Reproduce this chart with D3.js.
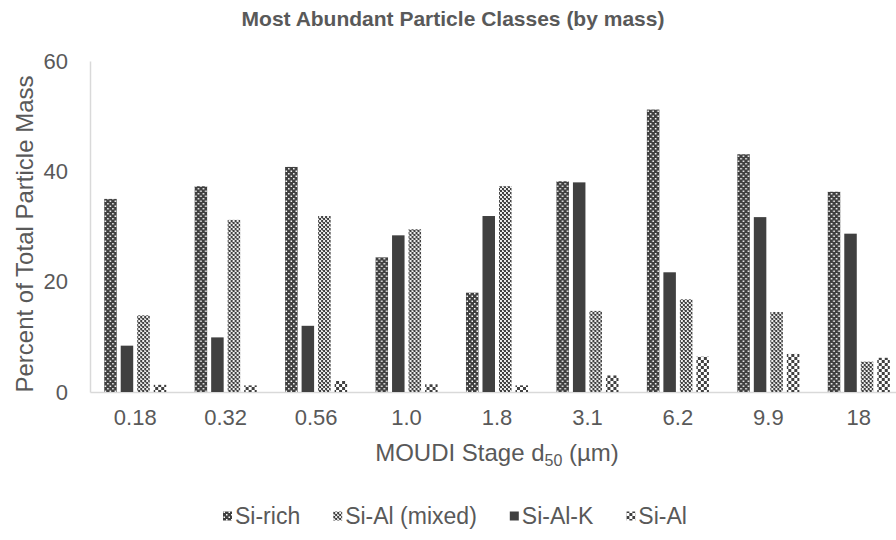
<!DOCTYPE html>
<html>
<head>
<meta charset="utf-8">
<script src="https://cdn.jsdelivr.net/npm/d3@7"></script>
<style>
  html, body { margin: 0; padding: 0; background: #fff; }
  svg { display: block; font-family: "Liberation Sans", Arial, sans-serif; }
</style>
</head>
<body>
<svg id="chart" width="896" height="540"></svg>
<script>
// MOUDI stage cut sizes (µm)
const stages = ["0.18", "0.32", "0.56", "1.0", "1.8", "3.1", "6.2", "9.9", "18"];

// Percent of total particle mass per class
const siRich    = [35.0, 37.3, 40.8, 24.4, 18.0, 38.2, 51.2, 43.1, 36.3];
const siAlK     = [8.4, 9.9, 12.0, 28.4, 31.9, 38.0, 21.7, 31.7, 28.7];
const siAlMixed = [13.9, 31.2, 31.9, 29.5, 37.3, 14.7, 16.8, 14.5, 5.5];
const siAl      = [1.3, 1.2, 2.0, 1.4, 1.2, 3.0, 6.4, 6.9, 6.2];

const yTicks = [0, 20, 40, 60];

// bar order inside each stage group
const barOrder = ["Si-rich", "Si-Al-K", "Si-Al (mixed)", "Si-Al"];
// legend order
const legendOrder = ["Si-rich", "Si-Al (mixed)", "Si-Al-K", "Si-Al"];

const seriesValues = {
  "Si-rich": siRich,
  "Si-Al (mixed)": siAlMixed,
  "Si-Al-K": siAlK,
  "Si-Al": siAl
};
const seriesFill = {
  "Si-rich": "url(#pat-rich)",
  "Si-Al (mixed)": "url(#pat-mixed)",
  "Si-Al-K": "#404040",
  "Si-Al": "url(#pat-sial)"
};

const svg = d3.select("#chart");
const textColor = "#595959";
const axisColor = "#d9d9d9";
const dark = "#404040";

// fill patterns
const defs = svg.append("defs");
const pRich = defs.append("pattern").attr("id", "pat-rich")
  .attr("patternUnits", "userSpaceOnUse").attr("width", 5).attr("height", 5);
pRich.append("rect").attr("width", 5).attr("height", 5).attr("fill", dark);
pRich.append("rect").attr("x", 0.5).attr("y", 0.5).attr("width", 1.5).attr("height", 1.5).attr("fill", "#fff");
pRich.append("rect").attr("x", 3).attr("y", 3).attr("width", 1.5).attr("height", 1.5).attr("fill", "#fff");

const pMixed = defs.append("pattern").attr("id", "pat-mixed")
  .attr("patternUnits", "userSpaceOnUse").attr("width", 4).attr("height", 4);
pMixed.append("rect").attr("width", 4).attr("height", 4).attr("fill", "#eeeeee");
pMixed.append("rect").attr("x", 0).attr("y", 0).attr("width", 2).attr("height", 2).attr("fill", dark);
pMixed.append("rect").attr("x", 2).attr("y", 2).attr("width", 2).attr("height", 2).attr("fill", dark);
pMixed.append("rect").attr("x", 1).attr("y", 2).attr("width", 1).attr("height", 1).attr("fill", "#888");

const pSiAl = defs.append("pattern").attr("id", "pat-sial")
  .attr("patternUnits", "userSpaceOnUse").attr("width", 6).attr("height", 6);
pSiAl.append("rect").attr("width", 6).attr("height", 6).attr("fill", "#fff");
pSiAl.append("rect").attr("x", 0).attr("y", 0).attr("width", 3).attr("height", 3).attr("fill", dark);
pSiAl.append("rect").attr("x", 3).attr("y", 3).attr("width", 3).attr("height", 3).attr("fill", dark);

// plot area
const plotLeft = 90, plotRight = 904, plotTop = 61, plotBottom = 392;

const x0 = d3.scaleBand().domain(stages).range([plotLeft, plotRight])
  .paddingInner(0.314).paddingOuter(0.157);
const x1 = d3.scaleBand().domain(barOrder).range([0, x0.bandwidth()])
  .paddingInner(0.243).paddingOuter(0);
const y = d3.scaleLinear().domain([0, 60]).range([plotBottom, plotTop]);

// title
svg.append("text")
  .attr("x", 453).attr("y", 25.5)
  .attr("text-anchor", "middle")
  .attr("font-size", 21).attr("font-weight", "bold")
  .attr("fill", textColor)
  .text("Most Abundant Particle Classes (by mass)");

// y axis
const yAxis = d3.axisLeft(y).tickValues(yTicks).tickSize(0).tickPadding(22);
const gy = svg.append("g").attr("transform", `translate(${plotLeft},0)`).call(yAxis);
gy.select(".domain").attr("stroke", axisColor).attr("stroke-width", 1.5);
gy.selectAll("text").attr("font-size", 22).attr("fill", textColor)
  .attr("font-family", "Liberation Sans, Arial, sans-serif");

// x axis
const xAxis = d3.axisBottom(x0).tickSize(0).tickPadding(17);
const gx = svg.append("g").attr("transform", `translate(0,${plotBottom})`).call(xAxis);
gx.select(".domain").attr("stroke", axisColor).attr("stroke-width", 1.5);
gx.selectAll("text").attr("font-size", 22).attr("fill", textColor)
  .attr("font-family", "Liberation Sans, Arial, sans-serif");

// bars
const groups = svg.append("g").selectAll("g")
  .data(stages).join("g")
  .attr("transform", d => `translate(${x0(d)},0)`);

groups.selectAll("rect")
  .data((stage, i) => barOrder.map(name => ({ name, value: seriesValues[name][i] })))
  .join("rect")
  .attr("x", d => x1(d.name))
  .attr("width", x1.bandwidth())
  .attr("y", d => y(d.value))
  .attr("height", d => y(0) - y(d.value))
  .attr("fill", d => seriesFill[d.name]);

// axis titles
svg.append("text")
  .attr("transform", `translate(33,234) rotate(-90)`)
  .attr("text-anchor", "middle")
  .attr("font-size", 24).attr("fill", textColor)
  .text("Percent of Total Particle Mass");

const xt = svg.append("text")
  .attr("x", 497).attr("y", 461)
  .attr("text-anchor", "middle")
  .attr("font-size", 24).attr("fill", textColor);
xt.append("tspan").text("MOUDI Stage d");
xt.append("tspan").attr("dy", 5).attr("font-size", 16).text("50");
xt.append("tspan").attr("dy", -5).text(" (µm)");

// legend, laid out from measured label widths
const legend = svg.append("g").attr("transform", "translate(223,516)");
const li = legend.selectAll("g").data(legendOrder).join("g");
li.append("rect").attr("x", 0).attr("y", -4.5).attr("width", 9).attr("height", 9)
  .attr("fill", d => seriesFill[d]);
li.append("text").attr("x", 12).attr("y", 8)
  .attr("font-size", 23).attr("fill", textColor)
  .text(d => d);
const gap = 33;
let cursor = 0;
const offsets = [];
li.each(function () {
  offsets.push(cursor);
  cursor += 12 + d3.select(this).select("text").node().getComputedTextLength() + gap;
});
li.attr("transform", (d, i) => `translate(${offsets[i]},0)`);
</script>
</body>
</html>
